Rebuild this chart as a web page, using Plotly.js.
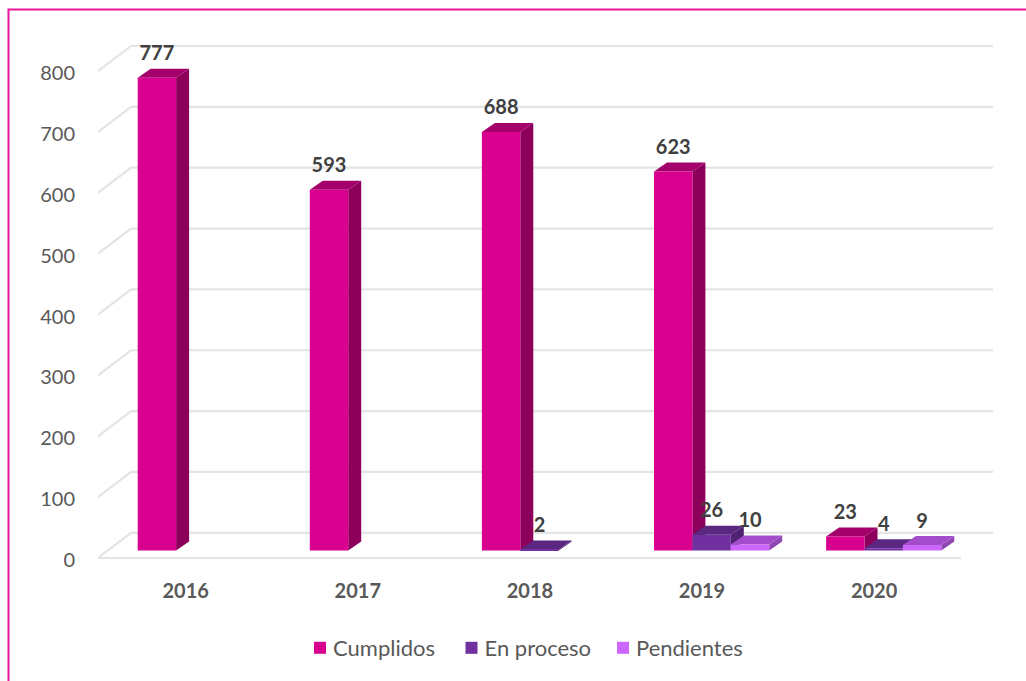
<!DOCTYPE html>
<html>
<head>
<meta charset="utf-8">
<script src="https://cdn.plot.ly/plotly-3.0.1.min.js"></script>
<style>html,body{margin:0;padding:0;background:#fff}#chart{width:1026px;height:681px}</style>
</head>
<body>
<div id="chart"></div>
<script>
// ---- data ----
var years = [2016, 2017, 2018, 2019, 2020];
var cumplidos = [777, 593, 688, 623, 23];
var enProceso = [null, null, 2, 26, 4];
var pendientes = [null, null, null, 10, 9];
var seriesNames = ['Cumplidos', 'En proceso', 'Pendientes'];
var yTicks = [0, 100, 200, 300, 400, 500, 600, 700, 800];

// ---- style ----
var frontColors = ['#D9008F', '#7030A0', '#CC66FF'];
var sideColors = ['#8C005C', '#4E2270', '#8E47B3'];
var topColors = ['#A3006B', '#5A2880', '#A34DCC'];
var pxX = 172.1, pxY = 0.6085;           // px per axis unit
var barW = 38.4 / pxX;                   // bar width, x units
var barStart = -48 / pxX;                // left edge of first bar relative to the tick
var baseU = 7.4 / pxY;                   // gap between the floor's front edge and bar base
var depthX = 13 / pxX, depthY = 9 / pxY; // bar depth projection
var wallX = 33 / pxX, wallY = 25.2 / pxY;// wall depth projection
var labelGap = 13.5 / pxY;
var xMin = 2016 - 87.7 / pxX, xFloorEnd = 2016 + 775.3 / pxX, xMax = xMin + 895 / pxX;

var allSeries = [cumplidos, enProceso, pendientes];
var traces = [];

// side and top faces of each bar, projected from the data values
allSeries.forEach(function (vals, s) {
  var sx = [], sy = [], tx = [], ty = [];
  vals.forEach(function (v, i) {
    if (v === null) return;
    var l = years[i] + barStart + s * barW, r = l + barW, b = baseU, t = baseU + v;
    sx.push(r, r + depthX, r + depthX, r, r, null);
    sy.push(b, b + depthY, t + depthY, t, b, null);
    tx.push(l, r, r + depthX, l + depthX, l, null);
    ty.push(t, t, t + depthY, t + depthY, t, null);
  });
  [[sx, sy, sideColors[s]], [tx, ty, topColors[s]]].forEach(function (f) {
    traces.push({
      type: 'scatter', mode: 'lines', x: f[0], y: f[1], fill: 'toself', fillcolor: f[2],
      line: {width: 0}, showlegend: false, hoverinfo: 'skip', xaxis: 'x', yaxis: 'y'
    });
  });
});

// front faces: real bars, on an overlaid axis so they sit above neighbouring side faces
allSeries.forEach(function (vals, s) {
  traces.push({
    type: 'bar', name: seriesNames[s], x: years, y: vals, base: baseU,
    width: barW, offset: barStart + s * barW,
    marker: {color: frontColors[s], line: {width: 0}},
    xaxis: 'x', yaxis: 'y2', hoverinfo: 'name+y'
  });
});

// value labels
allSeries.forEach(function (vals, s) {
  var lx = [], ly = [], lt = [];
  vals.forEach(function (v, i) {
    if (v === null) return;
    lx.push(years[i] + barStart + (s + 0.5) * barW);
    ly.push(baseU + v + depthY + labelGap);
    lt.push(String(v));
  });
  traces.push({
    type: 'scatter', mode: 'text', x: lx, y: ly, text: lt, textposition: 'middle center',
    textfont: {family: 'Lato', size: 20, color: '#404040', weight: 700},
    showlegend: false, hoverinfo: 'skip', xaxis: 'x', yaxis: 'y2', cliponaxis: false
  });
});

// floor and wall gridlines
var grid = {color: '#E4E4E4', width: 2.2};
var shapes = [];
yTicks.forEach(function (v) {
  shapes.push({type: 'line', xref: 'x', yref: 'y', layer: 'below', x0: xMin, y0: v, x1: xMin + wallX, y1: v + wallY, line: grid});
  shapes.push({type: 'line', xref: 'x', yref: 'y', layer: 'below', x0: xMin + wallX, y0: v + wallY, x1: xMax, y1: v + wallY, line: grid});
});
shapes.push({type: 'line', xref: 'x', yref: 'y', layer: 'below', x0: xMin, y0: 0, x1: xFloorEnd, y1: 0, line: grid});
var plotW = 895, plotH = 523, mL = 98, mT = 40;
// chart frame: top and left edges only, the others run off the picture
shapes.push({type: 'rect', xref: 'paper', yref: 'paper', layer: 'below',
  x0: (8.5 - mL) / plotW, x1: (1040 - mL) / plotW, y0: (mT + plotH - 700) / plotH, y1: (mT + plotH - 9.5) / plotH,
  line: {color: '#E6149B', width: 2}, fillcolor: 'rgba(0,0,0,0)'});

var yRange = [-5 / pxY, 518 / pxY];
var layout = {
  width: 1026, height: 681,
  margin: {l: mL, r: 1026 - mL - plotW, t: mT, b: 681 - mT - plotH, pad: 0},
  paper_bgcolor: '#FFFFFF', plot_bgcolor: 'rgba(0,0,0,0)',
  font: {family: 'Lato', size: 20, color: '#595959'},
  barmode: 'overlay',
  showlegend: true,
  legend: {orientation: 'h', xref: 'container', yref: 'container', x: 300 / 1026, xanchor: 'left', y: (681 - 627) / 681, yanchor: 'top',
    traceorder: 'normal', font: {family: 'Lato', size: 22, color: '#595959'}, bgcolor: 'rgba(0,0,0,0)',
    entrywidth: 106.5, entrywidthmode: 'pixels', itemwidth: 30, itemclick: false, itemdoubleclick: false},
  xaxis: {range: [xMin, xMax], tickmode: 'array', tickvals: years, ticktext: years.map(String),
    showgrid: false, zeroline: false, showline: false, ticks: '', ticklabelstandoff: 14,
    tickfont: {family: 'Lato', size: 20, color: '#595959', weight: 700}, fixedrange: true},
  yaxis: {range: yRange, tickmode: 'array', tickvals: yTicks, ticktext: yTicks.map(String),
    showgrid: false, zeroline: false, showline: false, ticks: '', ticklabelstandoff: 22, ticklabelshift: 2,
    tickfont: {family: 'Lato', size: 20, color: '#595959'}, fixedrange: true},
  yaxis2: {range: yRange, overlaying: 'y', visible: false, fixedrange: true},
  shapes: shapes
};
Plotly.newPlot('chart', traces, layout, {displayModeBar: false, responsive: false}).then(function () {
  // legend keys sit closer to their text and are a little larger in the reference
  document.querySelectorAll('#chart .legendtext').forEach(function (t) { t.setAttribute('x', 33); });
  document.querySelectorAll('#chart .legendbar path, #chart path.legendbar').forEach(function (p) { p.setAttribute('d', 'M7,7H-7V-7H7Z'); });
});
</script>
</body>
</html>
